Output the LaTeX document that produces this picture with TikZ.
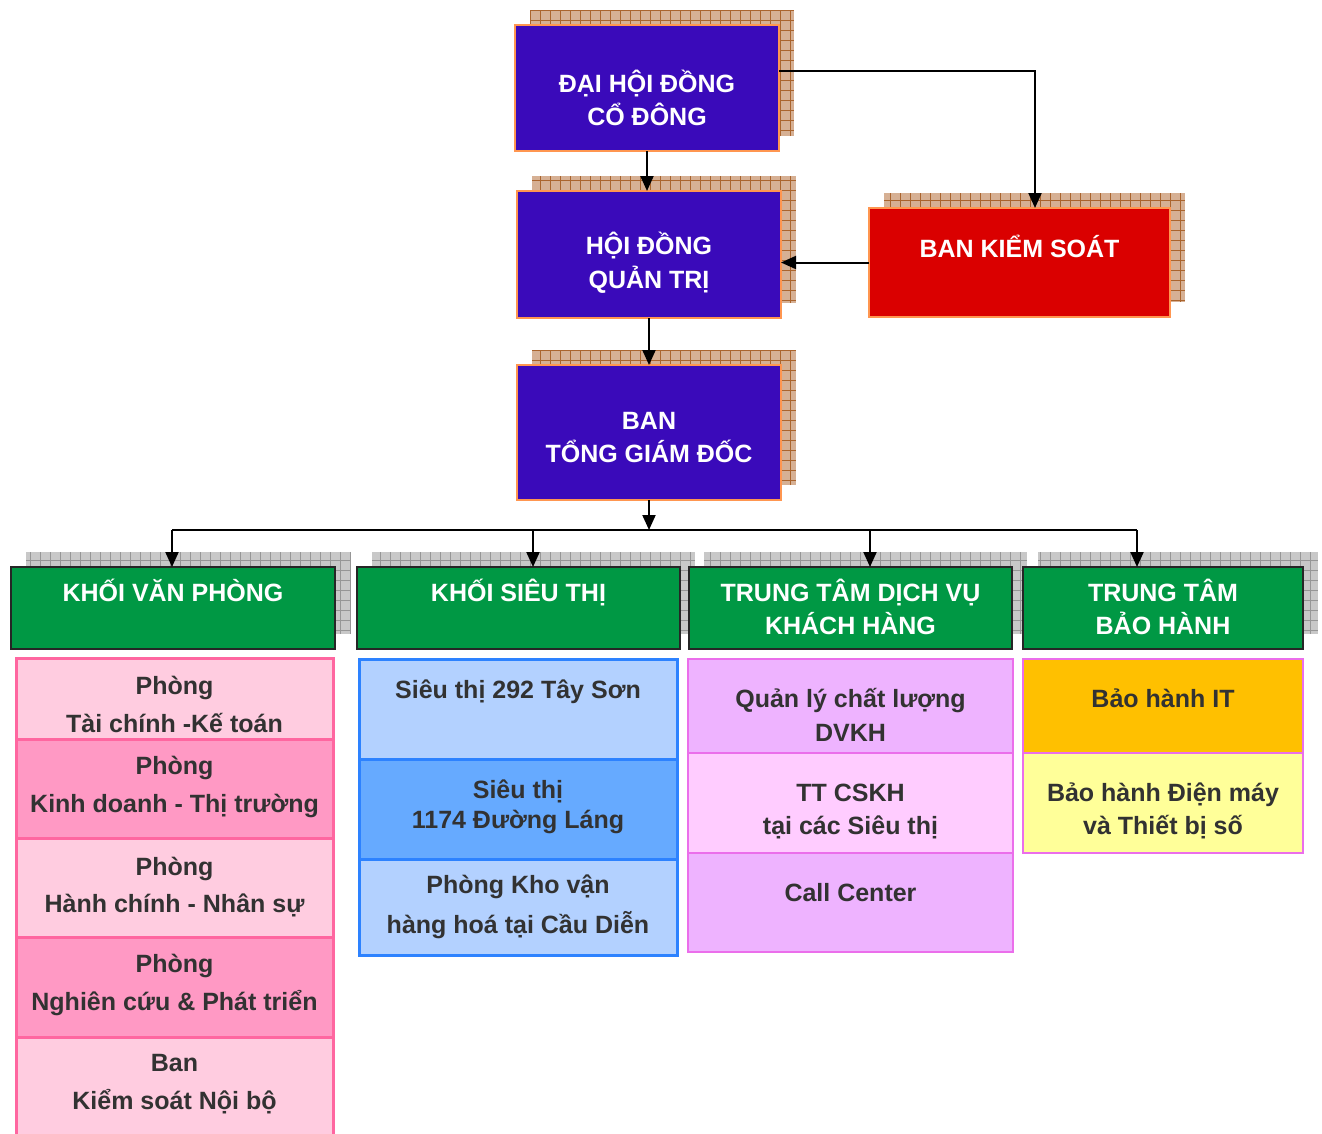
\documentclass[tikz,border=0pt]{standalone}
\usepackage{fontspec}
\setmainfont{Liberation Sans}
\usetikzlibrary{arrows.meta,backgrounds,calc}
\definecolor{topfill}{RGB}{58,10,186}
\definecolor{topedge}{RGB}{255,150,80}
\definecolor{redfill}{RGB}{218,0,0}
\definecolor{grnfill}{RGB}{0,152,68}
\definecolor{tanfill}{RGB}{214,176,148}
\definecolor{tangrid}{RGB}{170,100,45}
\definecolor{grayfill}{RGB}{200,200,200}
\definecolor{graygrid}{RGB}{150,150,150}
\definecolor{pinklt}{RGB}{255,204,224}
\definecolor{pinkdk}{RGB}{255,153,196}
\definecolor{pinkedge}{RGB}{255,102,160}
\definecolor{bluelt}{RGB}{179,209,255}
\definecolor{bluedk}{RGB}{102,170,255}
\definecolor{blueedge}{RGB}{45,130,255}
\definecolor{violt}{RGB}{238,179,255}
\definecolor{vioxl}{RGB}{255,204,255}
\definecolor{vioedge}{RGB}{235,110,235}
\definecolor{goldfill}{RGB}{255,192,0}
\definecolor{yelfill}{RGB}{255,255,153}
\definecolor{celltext}{RGB}{50,50,50}
\newcommand\mkshadow[2]{%
  \fill[#2fill] ([shift={(15pt,15pt)}]#1.south west) rectangle ([shift={(15pt,15pt)}]#1.north east);
  \draw[#2grid, line width=0.5pt, step=10pt] ([shift={(15pt,15pt)}]#1.south west) grid ([shift={(15pt,15pt)}]#1.north east);
}
\begin{document}
\begin{tikzpicture}[x=1pt,y=-1pt,
  box/.style={rectangle, inner sep=0pt, outer sep=0pt},
  topbox/.style={box, fill=topfill, draw=topedge, line width=2.5pt, minimum width=264pt},
  redbox/.style={box, fill=redfill, draw=topedge, line width=2.5pt},
  head/.style={box, fill=grnfill, draw=black!85, line width=2pt, minimum height=82pt},
  pinkcell/.style={box, draw=pinkedge, line width=3pt, minimum width=317pt},
  bluecell/.style={box, draw=blueedge, line width=3pt, minimum width=318pt},
  viocell/.style={box, draw=vioedge, line width=2pt, minimum width=325pt},
  warcell/.style={box, draw=vioedge, line width=2pt, minimum width=280pt},
  wtxt/.style={anchor=base, inner sep=0pt, text=white, font=\fontsize{25}{29}\selectfont\bfseries},
  ctxt/.style={anchor=base, inner sep=0pt, text=celltext, font=\fontsize{25}{29}\selectfont\bfseries},
  conn/.style={draw=black, line width=2pt, -{Triangle[length=15pt,width=13pt]}},
  busline/.style={draw=black, line width=2pt}
]
\useasboundingbox (0,0) rectangle (1322,1133);

% top boxes
\node[topbox, minimum height=126pt] (b1) at (647,88) {};
\node[topbox, minimum height=127pt] (b2) at (649,254.5) {};
\node[topbox, minimum height=135pt] (b3) at (649,432.5) {};
\node[redbox, minimum width=301pt, minimum height=109pt] (bks) at (1019.5,262.5) {};

\node[wtxt] (b1a) at (647,92) {ĐẠI HỘI ĐỒNG};
\node[wtxt] (b1b) at (647,125) {CỔ ĐÔNG};
\node[wtxt] (b2a) at (649,254) {HỘI ĐỒNG};
\node[wtxt] (b2b) at (649,288) {QUẢN TRỊ};
\node[wtxt] (b3a) at (649,429) {BAN};
\node[wtxt] (b3b) at (649,462) {TỔNG GIÁM ĐỐC};
\node[wtxt] (bksa) at (1019.5,257) {BAN KIỂM SOÁT};

% headers
\node[head, minimum width=324pt] (h1) at (173,608) {};
\node[head, minimum width=323pt] (h2) at (518.5,608) {};
\node[head, minimum width=323pt] (h3) at (850.5,608) {};
\node[head, minimum width=280pt] (h4) at (1163,608) {};

\node[wtxt] (h1a) at (173,601) {KHỐI VĂN PHÒNG};
\node[wtxt] (h2a) at (518.5,601) {KHỐI SIÊU THỊ};
\node[wtxt] (h3a) at (850.5,601) {TRUNG TÂM DỊCH VỤ};
\node[wtxt] (h3b) at (850.5,634) {KHÁCH HÀNG};
\node[wtxt] (h4a) at (1163,601) {TRUNG TÂM};
\node[wtxt] (h4b) at (1163,634) {BẢO HÀNH};

% pink column
\node[pinkcell, fill=pinklt, minimum height=81pt] (p1) at (174.5,698.5) {};
\node[pinkcell, fill=pinkdk, minimum height=99pt] (p2) at (174.5,788.5) {};
\node[pinkcell, fill=pinklt, minimum height=99pt] (p3) at (174.5,887.5) {};
\node[pinkcell, fill=pinkdk, minimum height=100pt] (p4) at (174.5,987) {};
\node[pinkcell, fill=pinklt, minimum height=108pt] (p5) at (174.5,1091) {};

\node[ctxt] (p1a) at (174.5,694) {Phòng};
\node[ctxt] (p1b) at (174.5,732) {Tài chính -Kế toán};
\node[ctxt] (p2a) at (174.5,774) {Phòng};
\node[ctxt] (p2b) at (174.5,812) {Kinh doanh - Thị trường};
\node[ctxt] (p3a) at (174.5,875) {Phòng};
\node[ctxt] (p3b) at (174.5,912) {Hành chính - Nhân sự};
\node[ctxt] (p4a) at (174.5,972) {Phòng};
\node[ctxt] (p4b) at (174.5,1010) {Nghiên cứu \& Phát triển};
\node[ctxt] (p5a) at (174.5,1071) {Ban};
\node[ctxt] (p5b) at (174.5,1109) {Kiểm soát Nội bộ};

% blue column
\node[bluecell, fill=bluelt, minimum height=100pt] (s1) at (518,709) {};
\node[bluecell, fill=bluedk, minimum height=100pt] (s2) at (518,809) {};
\node[bluecell, fill=bluelt, minimum height=96pt] (s3) at (518,907) {};

\node[ctxt] (s1a) at (518,698) {Siêu thị 292 Tây Sơn};
\node[ctxt] (s2a) at (518,798) {Siêu thị};
\node[ctxt] (s2b) at (518,828) {1174 Đường Láng};
\node[ctxt] (s3a) at (518,893) {Phòng Kho vận};
\node[ctxt] (s3b) at (518,933) {hàng hoá tại Cầu Diễn};

% violet column
\node[viocell, fill=violt, minimum height=94pt] (d1) at (850.5,706) {};
\node[viocell, fill=vioxl, minimum height=100pt] (d2) at (850.5,803) {};
\node[viocell, fill=violt, minimum height=99pt] (d3) at (850.5,902.5) {};

\node[ctxt] (d1a) at (850.5,707) {Quản lý chất lượng};
\node[ctxt] (d1b) at (850.5,741) {DVKH};
\node[ctxt] (d2a) at (850.5,801) {TT CSKH};
\node[ctxt] (d2b) at (850.5,834) {tại các Siêu thị};
\node[ctxt] (d3a) at (850.5,901) {Call Center};

% warranty column
\node[warcell, fill=goldfill, minimum height=94pt] (w1) at (1163,706) {};
\node[warcell, fill=yelfill, minimum height=100pt] (w2) at (1163,803) {};

\node[ctxt] (w1a) at (1163,707) {Bảo hành IT};
\node[ctxt] (w2a) at (1163,801) {Bảo hành Điện máy};
\node[ctxt] (w2b) at (1163,834) {và Thiết bị số};

% shadows
\begin{scope}[on background layer]
  \mkshadow{b1}{tan}
  \mkshadow{b2}{tan}
  \mkshadow{b3}{tan}
  \mkshadow{bks}{tan}
  \mkshadow{h1}{gray}
  \mkshadow{h2}{gray}
  \mkshadow{h3}{gray}
  \mkshadow{h4}{gray}
\end{scope}

% connectors
\coordinate (bus) at (649,530);
\draw[conn] ([yshift=17pt]b1.east) -| ([xshift=15.5pt]bks.north);
\draw[conn] (b1.south) -- (b1.south |- b2.north);
\draw[conn] (bks.west) -- (bks.west -| b2.east);
\draw[conn] (b2.south) -- (b3.north);
\draw[conn] (b3.south) -- (bus);
\draw[busline] ([xshift=-1pt]h1.north |- bus) -- ([xshift=-26pt]h4.north |- bus);
\draw[conn] ([xshift=-1pt]h1.north |- bus) -- ([xshift=-1pt]h1.north);
\draw[conn] ([xshift=14.5pt]h2.north |- bus) -- ([xshift=14.5pt]h2.north);
\draw[conn] ([xshift=19.5pt]h3.north |- bus) -- ([xshift=19.5pt]h3.north);
\draw[conn] ([xshift=-26pt]h4.north |- bus) -- ([xshift=-26pt]h4.north);
\end{tikzpicture}
\end{document}
